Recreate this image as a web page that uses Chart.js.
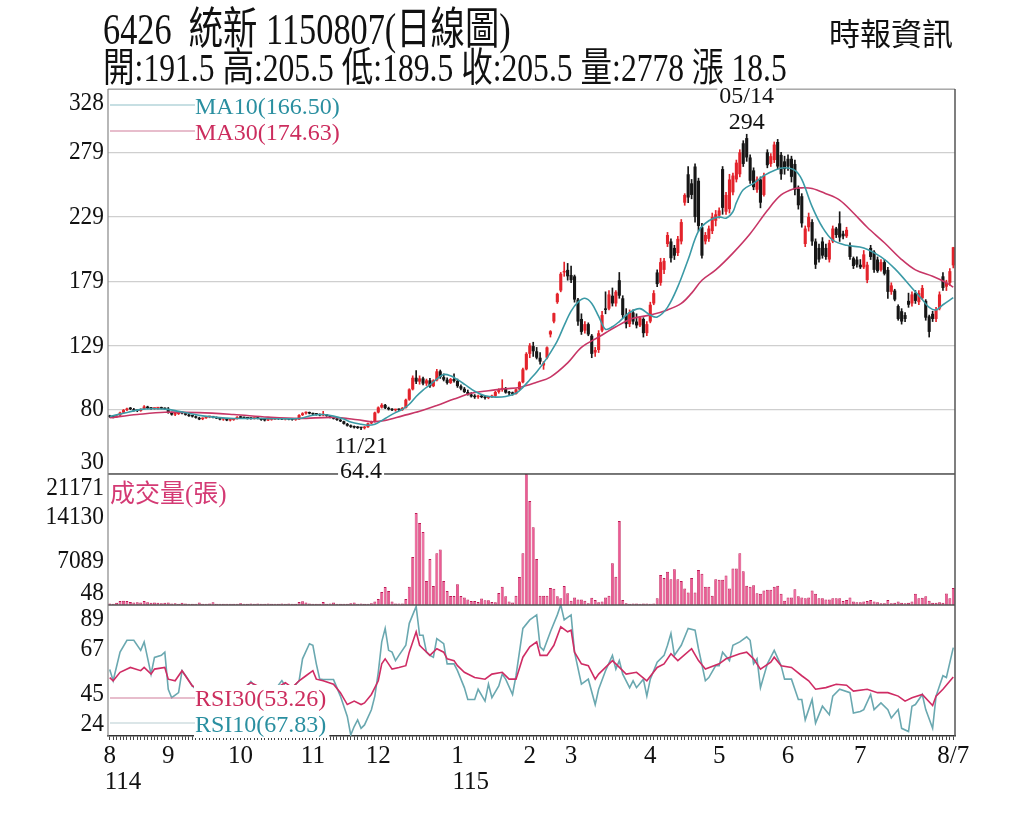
<!DOCTYPE html>
<html><head><meta charset="utf-8">
<script src="https://cdn.jsdelivr.net/npm/chart.js@4.4.1/dist/chart.umd.min.js"></script>
<style>
html,body{margin:0;padding:0;background:#fff;}
#wrap{position:relative;width:1024px;height:819px;overflow:hidden;background:#fff;}
canvas{position:absolute;left:0;top:0;}
.t{position:absolute;white-space:nowrap;font-family:'Liberation Serif','Noto Sans CJK TC',serif;color:#111;transform-origin:0 0;}
</style></head>
<body><div id="wrap">
<canvas id="c" width="1024" height="819"></canvas>
<div class="t" style="left:103px;top:8px;font-size:44px;line-height:44px;transform:scaleX(0.78)">6426&nbsp; 統新 1150807(日線圖)</div>
<div class="t" style="left:103px;top:48px;font-size:40px;line-height:40px;transform:scaleX(0.79)">開:191.5 高:205.5 低:189.5 收:205.5 量:2778 漲 18.5</div>
<div class="t" style="left:829px;top:16px;font-size:31px;line-height:31px;font-family:'Noto Sans CJK TC',sans-serif;">時報資訊</div>
</div>
<script>
// ---- categories (trading days grouped by month) ----
const monthNames = ['8','9','10','11','12','1','2','3','4','5','6','7','8'];
const monthYears = [114,114,114,114,114,115,115,115,115,115,115,115,115];
const monthTradingDays = [17,21,21,19,23,21,12,23,20,20,21,23,5];
const lastDayLabel = '8/7';

// ---- tick labels ----
const priceTicks = [30,80,129,179,229,279,328];
const volumeTicks = [48,7089,14130,21171];
const rsiTicks = [24,45,67,89];

// ---- daily candles [open, high, low, close] ----
const ohlc = [
[75,75.5,73.8,74.2],[74.4,75,73.5,74],[74,75.6,73.8,75.2],[75.4,78,75.2,77.5],[77.5,80,77,79.5],
[79.5,81,79,80.5],[81,81.5,79.8,80.2],[80.2,80.8,78.6,79],[79,79.8,78.2,78.8],[78.8,80.5,78.5,80.2],
[80.5,83,80.2,82.2],[82,82.5,80.5,81],[81,81.5,80,80.5],[80.5,81.2,80,80.8],[80.8,81.5,80.2,81],
[81,81.8,80.4,80.6],[80.6,81.2,79.8,80.2],
[80.5,81.5,77,77.5],[77.5,78,75.5,76],[76,77,75.2,76.5],[76.5,77.8,76,77.2],[77.2,78,76.5,77],
[77,77.5,75.5,75.8],[75.8,76.2,74.5,74.8],[74.8,75.5,74,74.5],[74.5,75,73.2,73.5],[73.5,74,72,72.3],
[72.5,73.5,72,73.2],[73.2,74.5,73,74],[74,74.8,73.5,74.2],[74.2,74.6,73.5,73.8],[73.8,74.2,72.8,73],
[73,73.5,71.8,72.2],[72.2,73,71.5,72.5],[72.5,73,71.2,71.5],[71.5,72.2,71,71.8],[71.8,73,71.5,72.8],
[72.8,74.5,72.5,74.2],
[74,74.8,73.2,73.5],[73.5,74,72.8,73.2],[73.2,73.8,72.5,73],[73,73.5,72.4,72.8],[72.8,73.6,72.5,73.4],
[73.4,73.8,72.6,72.8],[72.8,73.2,71.5,71.8],[71.8,72.4,71,71.5],[71.5,72.2,71.2,72],[72,72.6,71.6,72.2],
[72.2,73,72,72.8],[72.8,73.2,72.2,72.5],[72.5,73,72,72.2],[72.2,72.8,71.8,72.5],[72.5,73,71.9,72.1],
[72.1,72.6,71.6,71.9],[71.9,72.5,71.5,72.3],[72.3,76,72,75.6],[75.6,77.5,75.2,77],[77,78.2,76.4,77.6],
[77.6,78,76.5,76.8],
[76.8,77.2,75.8,76.2],[76.2,76.8,75.5,76],[76,76.5,75,75.4],[75.4,78.5,75,75.8],[75.8,76.2,74.6,75],
[75,75.5,73.5,73.8],[73.8,74.2,72.5,72.8],[72.8,73.2,71.5,71.8],[71.8,72.2,70.5,70.8],[70.8,71,68.5,68.8],
[68.8,69.2,67,67.4],[67.4,68,66,66.5],[66.5,67.2,65.5,66],[66,66.8,65.2,65.6],[65.6,66.2,64.4,65.5],
[65.5,66.8,64.8,66.2],[66.2,69.5,66,69.2],[69.2,71,68.8,70.5],[70.5,78,70.2,77.6],
[77.6,82,77.2,81.5],[81.5,84.5,81,83.5],[83.5,84,80.5,81],[81,81.8,79.5,80],[80,80.6,79,79.4],
[79.4,80.2,78.6,79.8],[79.8,80.5,79,79.5],[79.5,81.5,79.2,81.2],[81.2,88,81,87.5],[87.5,96,87,95.5],
[95.5,106,95,104.5],[104.5,110,100,101.5],[101.5,106,99.5,104],[104,105,99,100],[100,103.5,98.5,102.5],
[102.5,104,97,98],[98,103,97.5,102.5],[102.5,111,102,109.5],[109.5,110.5,104,105],[105,107.5,102,103],
[103,104.5,99.5,100.5],[100.5,104,100,103.5],[103.5,107.5,101,102],
[102,103.5,97,98],[98,99,95,96],[96,97,93,93.5],[93.5,95,91,91.5],[91.5,93,89.5,90],
[90,91.5,88.5,89.5],[89.5,91,88.5,90.5],[90.5,91.5,89,89.5],[89.5,90.5,88,88.8],[88.8,90,88.2,89.5],
[89.5,91,89,90.5],[90.5,94,90,93.5],[93.5,96,92.5,95.5],[95.5,103,94,96],[96,97,92.5,93],
[93,94,91.5,92.5],[92.5,93.5,91,92],[92,96,91.8,95.5],[95.5,101.5,95,101],[101,112,100.5,111],
[111,124,110.5,123],
[123,131,120,129.5],[129,132,121,125],[125,128,119,120],[120,124,115,117],[114,117,111,116],
[120,128.5,119,128],[138,141,136,140.5],[148,154.5,147,154.5],[163,170,162,169.5],[172,186,171,185],
[186,194,183,186.5],[188,193,180,183],
[184,191,178,180],[183,184,163,165],[165,166,145,148],[150,154,138,140],[141,148,139,146],
[146,147,137,138],[137,138,120,123],[124,128,121,126],[126,141,124,139],[141,156,140,153],
[158,171,154,157],[158,172,157,169],[168,174,160,162],[162,172,160,171],[180,186,166,168],
[166,168,151,153],[153,158,143,146],[146,157,144,155],[155,157,146,148],[148,154,143,145],
[145,152,144,151],[150,151,136,139],[139,148,137,146],
[148,163,147,161],[162,172,161,170],[186,188,175,177],[178,197,176,194],[188,197,185,195],
[208,217,206,215],[210,212,194,197],[205,207,196,199],[201,214,199,212],[210,227,208,225],
[240,247,238,246],[262,268,240,244],[255,258,243,246],[268,270,225,229],[257,259,218,222],
[221,224,197,199],[210,217,208,215],[212,222,210,220],[218,232,216,229],[226,234,222,231],
[230,236,228,234],[266,268,231,236],[233,248,231,246],[235,262,232,258],[248,263,246,261],
[258,273,256,271],[262,281,260,279],[286,288,268,270],[290,294,272,275],[275,277,255,257],
[265,267,250,252],[250,260,248,258],[258,260,236,240],[246,263,245,261],[279,281,267,269],
[270,278,268,276],[273,287,271,285],[287,289,266,268],[277,279,258,262],[272,276,262,266],
[274,277,265,268],[274,276,256,260],[270,273,246,250],[251,253,235,238],[245,247,221,224],
[208,222,206,220],[221,232,218,229],[225,227,207,210],[210,212,189,192],[205,208,194,196],
[210,213,197,199],[205,208,196,198],[196,211,194,209],[210,222,209,220],[220,221,213,215],
[224,233,210,213],[216,218,212,214],[214,221,213,219],[207,209,196,198],[197,198,189,191],
[196,198,190,192],
[192,196,189,190],[190,203,189,200],[180,194,178,192],[205,207,196,198],[202,203,186,188],
[196,198,186,187],[188,196,187,194],[194,196,184,185],[188,190,166,171],[171,178,169,176],
[172,173,164,165],[160,161,149,150],[156,158,146,148],[153,155,148,150],[164,170,159,161],
[162,171,160,169],[170,172,162,164],[163,172,161,170],[166,176,165,174],[164,165,149,151],
[152,153,136,140],[154,156,148,150],[150,159,148,157],
[158,171,157,169],[183,186,172,174],[175,180,172,178],[178,189,176,187],[191.5,205.5,189.5,205.5]
];

// ---- daily volume (張) ----
const volumes = [
300,250,400,700,750,700,550,450,500,450, 700,500,400,450,400,350,400,450,300,350,
250,400,300,250,250,250,450,250,250,300, 500,250,250,250,250,250,250,250,350,250,
250,200,250,200,250,250,200,250,250,250, 200,250,200,250,250,550,650,450,300,250,
250,250,550,250,300,450,250,250,250,250, 350,450,250,300,250,250,350,600,
1000,2150,2950,2300,600,300,300,300,1000,3000,
7800,14870,13250,11800,3900,7450,3100,8400,9000,3900,
2300,1500,1500,3400,1500,1250,950,700,700,550,
1100,800,800,550,500,2000,3000,1450,600,450,
1550,4550,8400,21171,
16800,12600,7450,1550,1550,1550,2800,2650,1450,1150,
3100,1950,750,1250,950,950,750,350,1200,850,
500,600,1250,1550,6800,4600,13600,850,350,
250,220,200,250,220,200,250,300,
1150,4900,4400,5400,4200,5800,4200,3900,2700,2050,
4400,2050,5700,5100,3000,3000,1550,4200,4100,4100,
4800,2700,5950,5950,8400,5500,3150,3000,3250,1950,
1850,2400,2500,2500,3000,3150,1850,750,1250,1250,
2600,1450,1250,1150,1250,2400,1850,1150,1150,950,
950,1150,1150,1150,700,850,1250,600,500,500,
600,700,850,600,500,350,350,850,350,400,
600,400,350,400,600,1850,1150,1200,1450,750,
400,400,500,400,1900,1150,2778
];

// ---- moving averages: [day index, value] ----
const ma10 = [[0,74.5],[4,77],[9,80],[13,80.5],[17,80],[20,78.5],[23,77],[27,75],[31,73.8],[36,73],[42,73],[48,72.8],[55,73],[59,75.5],[62,76],[65,74.8],[68,72.5],[70,70.3],[73,68.5],[75,67.7],[77,68.5],[80,73],[83,77.5],[85,80],[87,84],[89,90],[91,95],[93,99],[95,103.5],[97,107],[99,106],[101,103],[103,99.5],[106,94],[109,90.5],[112,89.5],[115,90],[118,92.5],[120,97],[122,103],[124,109],[126,116],[128,124],[130,133],[132,145],[134,156],[136,163],[138,166],[140,162],[142,152],[144,142],[146,144],[148,148],[151,155],[154,158],[157,153],[159,151.5],[162,159],[165,175],[168,196],[171,218],[174,226],[177,229],[179,228],[181,233],[182,240],[184,250],[187,255],[190,261],[193,265],[196,267],[199,265],[201,258],[204,237],[207,221],[210,211],[214,207],[219,205],[224,198],[228,189],[233,174],[236,165],[238,159],[240,157],[242,161],[245,166.5]];
const ma30 = [[0,73.5],[8,76],[16,77.8],[26,77.5],[36,76],[46,74],[55,73],[65,73.8],[72,72],[76,70.5],[80,71.5],[85,75],[90,78.5],[95,83],[100,88],[105,92.5],[110,94.5],[115,96],[119,97],[124,101],[128,105],[133,116],[137,128],[142,136],[147,144],[152,150.5],[157,153],[162,157],[166,162],[169,170],[172,180],[176,188],[181,201],[186,216],[191,234],[195,246],[199,251],[201,251.5],[204,251],[208,247],[212,242],[216,232],[220,221],[225,209],[230,196],[234,188],[239,183],[243,178],[245,174.63]];

// ---- RSI: [day index, value] ----
const rsi10 = [[0,57],[1,51.4],[3,65.6],[5,71.5],[7,71.5],[9,66.5],[10,70.7],[12,54.7],[13,63],[15,64],[16,65.6],[17,47.2],[18,43],[20,45.5],[21,56.4],[22,54],[24,48.8],[27,44],[30,46],[33,47],[36,44],[39,47],[41,51],[43,47],[46,45],[48,47],[50,51.5],[52,46],[55,51.4],[56,62.3],[58,69.8],[59,69],[60,59.8],[61,52.2],[62,52],[65,52],[67,43.8],[69,33.7],[70,24.5],[71,28.7],[72,32],[73,27.8],[74,29.5],[76,37],[77,43.8],[78,55.6],[79,70.7],[80,77.4],[81,66.5],[82,65.6],[83,61.4],[84,64],[86,69],[87,79.9],[89,88.3],[90,74],[91,74],[92,65.6],[93,64],[94,63.1],[95,72.3],[97,69.8],[98,59.8],[100,59.8],[101,56.4],[103,48],[104,42.1],[106,42.1],[107,47.2],[109,41.3],[110,49.7],[111,43],[113,48.8],[114,54.7],[115,52.2],[117,44.6],[118,53.9],[120,77.4],[122,81.6],[124,84.1],[125,68.2],[126,66.5],[128,75.7],[130,84.1],[131,89.1],[132,81.6],[134,84.1],[135,65.6],[137,49.7],[139,52.2],[141,39.6],[142,47.2],[144,56.4],[146,64],[147,57.2],[148,61.4],[149,54.7],[151,48],[152,51.4],[153,48],[155,52.2],[156,43.8],[157,52.2],[159,60.6],[161,64],[162,69],[163,74.9],[164,64],[166,69],[168,77.4],[170,76.5],[171,67.3],[173,51.4],[174,53],[176,58.9],[177,58.9],[178,65.6],[180,61.4],[181,69],[183,70.7],[185,73.2],[186,71.5],[187,59.8],[188,62.3],[189,48],[191,59.8],[192,63.1],[193,66.5],[195,58.9],[196,52.2],[198,52.2],[200,42.1],[201,42.1],[202,32],[204,42.1],[205,30.4],[207,38.8],[209,34.6],[210,43.8],[212,47.2],[215,45.5],[216,35.4],[218,36.2],[219,37.1],[221,44.6],[222,37.1],[224,40.4],[226,37.1],[227,32.9],[229,37.1],[230,27.8],[232,26.2],[233,38.8],[234,39.6],[236,44.6],[237,37.1],[239,27.8],[240,43.8],[242,53.9],[243,53],[245,67.83]];
const rsi30 = [[0,53],[1,51.4],[3,55.6],[6,58],[9,56.4],[10,58],[12,54.7],[13,57.2],[16,58],[17,52.2],[19,51.4],[21,56.4],[24,48.8],[28,47],[33,48],[38,47],[41,50.5],[44,48],[48,47.5],[51,50.5],[53,48],[55,51.4],[57,53.9],[59,56.4],[60,52.2],[62,51.4],[65,49.7],[67,45.5],[69,39.6],[71,41.3],[73,39.6],[74,40.4],[76,44.6],[78,51.4],[79,59.8],[80,62.3],[82,57.2],[84,58],[86,58.9],[87,65.6],[89,75.7],[90,69],[91,67.3],[93,64],[95,67.3],[97,65.6],[98,62.3],[100,61.4],[101,58.9],[103,55.6],[106,53],[109,52.2],[111,54.7],[114,55.6],[116,52.2],[118,52.2],[120,63.1],[122,68.2],[124,70.7],[125,64],[127,64],[129,69],[131,78.2],[133,75.7],[134,76.5],[135,65.6],[137,59.8],[139,58.9],[141,52.2],[142,54.7],[146,61.4],[147,59.8],[150,54.7],[153,55.6],[156,51.4],[159,58],[161,59.8],[163,64.8],[165,61.4],[169,67.3],[171,61.4],[173,57.2],[177,59.8],[179,62.3],[183,64.8],[185,65.6],[187,62.3],[189,57.2],[192,60.6],[193,63.1],[195,58.9],[198,58],[201,53.9],[203,51.4],[205,47.2],[208,48],[211,49.7],[214,49.2],[216,46.3],[220,47.2],[223,45.5],[226,45.5],[229,43.8],[231,41.3],[233,43],[236,44.6],[239,39.1],[240,43.8],[242,47.2],[245,53.26]];

// ---- notes & legend texts ----
const highNote = {index:185, date:'05/14', value:294};
const lowNote = {index:73, date:'11/21', value:64.4};
const legendMA = ['MA10(166.50)','MA30(174.63)'];
const legendRSI = ['RSI30(53.26)','RSI10(67.83)'];
const volumeTitle = '成交量(張)';

// ---- colours ----
const UP = '#e3232b', DOWN = '#161616';
const C_MA10 = '#3b9aa6', C_MA30 = '#c73666', C_RSI10 = '#6aa8b0', C_RSI30 = '#cf2c64';
const T_TEAL = '#2a8fa0', T_RED = '#cc2d5e';

// ---- build categories ----
const categories = [];
const monthStart = {};
const yearStart = {};
let prevYear = null;
monthNames.forEach((m, k) => {
  for (let d = 1; d <= monthTradingDays[k]; d++) {
    if (d === 1) {
      monthStart[categories.length] = k;
      if (monthYears[k] !== prevYear) { yearStart[categories.length] = monthYears[k]; prevYear = monthYears[k]; }
    }
    categories.push(monthYears[k] + '/' + m + '/' + d);
  }
});
const N = categories.length;
function toSeries(points) { const a = new Array(N).fill(null); points.forEach(([i, v]) => { a[i] = v; }); return a; }

const wicks = ohlc.map(c => [c[2], c[1]]);
const bodies = ohlc.map(c => [Math.min(c[0], c[3]), Math.max(c[0], c[3])]);
const candleColors = ohlc.map(c => c[3] > c[0] ? UP : DOWN);

const SERIF = "'Liberation Serif','Noto Sans CJK TC',serif";
Chart.defaults.font.family = SERIF;

const overlay = {
  id: 'overlay',
  afterDatasetsDraw(chart) {
    const ctx = chart.ctx, a = chart.chartArea;
    const yP = chart.scales.yPrice, yV = chart.scales.yVol, yR = chart.scales.yRsi, xs = chart.scales.x;
    ctx.save();
    // frame
    ctx.strokeStyle = '#aaa'; ctx.lineWidth = 1;
    ctx.beginPath(); ctx.moveTo(a.left, a.top + 0.5); ctx.lineTo(a.right, a.top + 0.5); ctx.stroke();
    ctx.strokeStyle = '#555'; ctx.lineWidth = 1.5;
    [yP.bottom, yV.bottom].forEach(y => { ctx.beginPath(); ctx.moveTo(a.left, y); ctx.lineTo(a.right, y); ctx.stroke(); });
    ctx.beginPath(); ctx.moveTo(a.right, a.top); ctx.lineTo(a.right, a.bottom); ctx.stroke();
    ctx.strokeStyle = '#888'; ctx.lineWidth = 1.2;
    ctx.beginPath(); ctx.moveTo(a.left, a.top); ctx.lineTo(a.left, a.bottom); ctx.stroke();

    // y tick labels (top/bottom labels pulled inside their pane), slightly condensed serif
    ctx.font = '26px ' + SERIF; ctx.fillStyle = '#111'; ctx.textAlign = 'right'; ctx.textBaseline = 'middle';
    [[yP, priceTicks], [yV, volumeTicks], [yR, rsiTicks]].forEach(([s, t]) => {
      t.forEach((v, k) => {
        let y = s.getPixelForValue(v);
        if (k === t.length - 1) y += 14; else if (k === 0) y -= 12;
        ctx.save(); ctx.translate(a.left - 4, y); ctx.scale(0.9, 1);
        ctx.fillText(String(v), 0, 0);
        ctx.restore();
      });
    });

    // legends
    ctx.textAlign = 'left'; ctx.textBaseline = 'alphabetic';
    const lx0 = a.left + 2, lx1 = a.left + 87;
    const leg = (lineColor, textColor, text, lineY, baseY, bg) => {
      ctx.font = '24px ' + SERIF;
      const w = ctx.measureText(text).width;
      if (bg) { ctx.fillStyle = '#fff'; ctx.fillRect(lx1 - 1, baseY - 21, w + 4, 27); }
      ctx.strokeStyle = lineColor; ctx.lineWidth = 1.2;
      ctx.beginPath(); ctx.moveTo(lx0, lineY); ctx.lineTo(lx1, lineY); ctx.stroke();
      ctx.fillStyle = textColor; ctx.fillText(text, lx1, baseY);
    };
    leg('#8fc0c8', T_TEAL, legendMA[0], a.top + 16, a.top + 25, false);
    leg('#cf7d9a', T_RED, legendMA[1], a.top + 42, a.top + 51, false);
    leg('#cf7d9a', T_RED, legendRSI[0], yR.bottom - 38, yR.bottom - 30, true);
    leg('#b8cdd2', T_TEAL, legendRSI[1], yR.bottom - 13, yR.bottom - 4, true);
    ctx.font = '25px ' + SERIF; ctx.fillStyle = '#d43a74';
    ctx.fillText(volumeTitle, a.left + 2, yV.top + 28);

    // high / low notes
    ctx.font = '24px ' + SERIF; ctx.textAlign = 'center';
    const note = (text, x, baseY) => {
      const w = ctx.measureText(text).width;
      ctx.fillStyle = '#fff'; ctx.fillRect(x - w / 2 - 2, baseY - 19, w + 4, 24);
      ctx.fillStyle = '#111'; ctx.fillText(text, x, baseY);
    };
    const hx = xs.getPixelForValue(highNote.index), hy = yP.getPixelForValue(highNote.value);
    note(highNote.date, hx, hy - 30);
    note(String(highNote.value), hx, hy - 4);
    const lx = xs.getPixelForValue(lowNote.index), ly = yP.getPixelForValue(lowNote.value);
    note(lowNote.date, lx, ly + 23);
    note(String(lowNote.value), lx, ly + 48);
    ctx.restore();
  }
};

const lineDs = (data, color, axis, tension) => ({
  type: 'line', data: toSeries(data), yAxisID: axis, borderColor: color, borderWidth: 1.6,
  pointRadius: 0, spanGaps: true, tension: tension, order: 0
});

new Chart(document.getElementById('c'), {
  type: 'bar',
  data: {
    labels: categories,
    datasets: [
      lineDs(ma10, C_MA10, 'yPrice', 0.35),
      lineDs(ma30, C_MA30, 'yPrice', 0.35),
      lineDs(rsi30, C_RSI30, 'yRsi', 0),
      lineDs(rsi10, C_RSI10, 'yRsi', 0),
      { data: bodies, yAxisID: 'yPrice', backgroundColor: candleColors, barPercentage: 0.9, categoryPercentage: 1, grouped: false, minBarLength: 1.5, order: 1 },
      { data: wicks, yAxisID: 'yPrice', backgroundColor: candleColors, barThickness: 1, grouped: false, order: 2 },
      { data: volumes, yAxisID: 'yVol', backgroundColor: '#ec5a94', borderColor: '#be1854', borderWidth: {left: 0.7, right: 0.7, top: 1, bottom: 0}, barPercentage: 0.85, categoryPercentage: 1, grouped: false, minBarLength: 1.5, order: 3 }
    ]
  },
  options: {
    responsive: false, animation: false,
    layout: { padding: { left: 0, right: 69, top: 89, bottom: 23 } },
    plugins: { legend: { display: false }, tooltip: { enabled: false } },
    scales: {
      x: {
        type: 'category', position: 'bottom', offset: true,
        grid: { display: true, drawOnChartArea: false, drawTicks: true, tickLength: 4, color: '#444', offset: false },
        border: { display: true, color: '#333', width: 1.5 },
        ticks: {
          autoSkip: false, maxRotation: 0, minRotation: 0, padding: 1, color: '#111', font: { size: 25, family: SERIF },
          callback: (v, i) => {
            if (i === N - 1) return lastDayLabel;
            if (monthStart[i] !== undefined && monthStart[i] < monthNames.length - 1) return monthNames[monthStart[i]];
            return '';
          }
        },
        afterFit: s => { s.height = 30; }
      },
      x2: {
        type: 'category', position: 'bottom', offset: true,
        grid: { display: false, drawTicks: false }, border: { display: false },
        ticks: {
          autoSkip: false, maxRotation: 0, minRotation: 0, padding: 1, align: 'start', labelOffset: -5,
          color: '#111', font: { size: 25, family: SERIF },
          callback: (v, i) => yearStart[i] !== undefined ? String(yearStart[i]) : ''
        },
        afterFit: s => { s.height = 30; }
      },
      yRsi: {
        type: 'linear', position: 'left', stack: 'panes', stackWeight: 131, min: 24, max: 89,
        grid: { display: false }, border: { display: false }, ticks: { display: false },
        afterBuildTicks: s => { s.ticks = rsiTicks.map(v => ({ value: v })); },
        afterFit: s => { s.width = 108; }
      },
      yVol: {
        type: 'linear', position: 'left', stack: 'panes', stackWeight: 131, min: 48, max: 21171,
        grid: { display: false }, border: { display: false }, ticks: { display: false },
        afterBuildTicks: s => { s.ticks = volumeTicks.map(v => ({ value: v })); },
        afterFit: s => { s.width = 108; }
      },
      yPrice: {
        type: 'linear', position: 'left', stack: 'panes', stackWeight: 385, min: 30, max: 328,
        grid: { display: true, color: '#cfcfcf', lineWidth: 1.2, drawTicks: false }, border: { display: false }, ticks: { display: false },
        afterBuildTicks: s => { s.ticks = priceTicks.map(v => ({ value: v })); },
        afterFit: s => { s.width = 108; }
      }
    }
  },
  plugins: [overlay]
});
</script>
</body></html>
